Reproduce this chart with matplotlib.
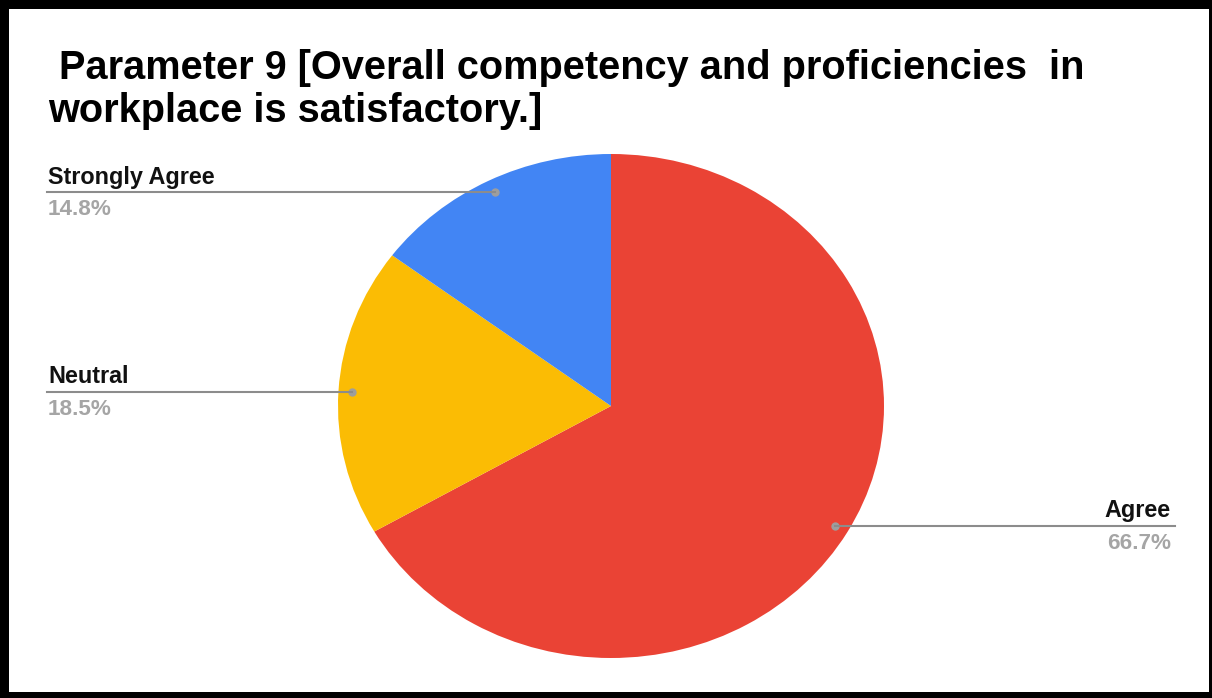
import numpy as np
import matplotlib
matplotlib.use("Agg")
import matplotlib.pyplot as plt
from matplotlib.patches import Rectangle

# ---- data ----
categories = ["Agree", "Neutral", "Strongly Agree"]
values = [66.7, 18.5, 14.8]
pct_labels = ["66.7%", "18.5%", "14.8%"]
colors = ["#EA4335", "#FBBC04", "#4285F4"]
title_line1 = " Parameter 9 [Overall competency and proficiencies  in"
title_line2 = "workplace is satisfactory.]"

W, H = 1212, 698
plt.rcParams['font.family'] = ['Liberation Sans', 'DejaVu Sans']
fig = plt.figure(figsize=(W / 100, H / 100), dpi=100)
fig.patch.set_facecolor("white")

def fx(x):
    return x / W

def fy(y):
    return 1 - y / H

# pie geometry (pixels)
cx, cy, rx, ry = 611, 406, 273, 252

ax = fig.add_axes([0, 0, 1, 1])
wedges, _ = ax.pie(values, colors=colors, startangle=90, counterclock=False,
                   radius=1, center=(0, 0), wedgeprops=dict(linewidth=0))
ax.set_aspect('auto')
ax.set_xlim((0 - cx) / rx, (W - cx) / rx)
ax.set_ylim(-(H - cy) / ry, cy / ry)
ax.axis('off')

fig.canvas.draw()
to_px = ax.transData

label_side = {"Agree": "right", "Neutral": "left", "Strongly Agree": "left"}
left_x, right_x = 47, 1175
for w, cat, pct in zip(wedges, categories, pct_labels):
    mid = np.deg2rad((w.theta1 + w.theta2) / 2)
    dx, dy = 0.95 * np.cos(mid), 0.95 * np.sin(mid)
    px_, py_ = to_px.transform((dx, dy))
    py_img = H - py_
    ax.plot([dx], [dy], 'o', color="#9e9e9e", markersize=5, zorder=5)
    if label_side[cat] == "left":
        x_end = left_x
        tx, ha = 48, 'left'
    else:
        x_end = right_x
        tx, ha = 1171, 'right'
    fig.add_artist(plt.Line2D([fx(px_), fx(x_end)], [fy(py_img), fy(py_img)],
                              transform=fig.transFigure, color="#8c8c8c", lw=1.5))
    fig.text(fx(tx), fy(py_img - 8.5), cat, ha=ha, va='baseline',
             fontsize=16.8, fontweight='bold', color="#111111")
    fig.text(fx(tx), fy(py_img + 23), pct, ha=ha, va='baseline',
             fontsize=16.2, fontweight='bold', color="#a5a5a5")

# title
fig.text(fx(48), fy(79), title_line1, ha='left', va='baseline',
         fontsize=28.6, fontweight='bold', color="black")
fig.text(fx(48), fy(122), title_line2, ha='left', va='baseline',
         fontsize=28.6, fontweight='bold', color="black")

# frame
for (x0, y0, w_, h_) in [(0, 0, 9, H), (0, 0, W, 9), (1209, 0, 3, H), (0, 692, W, 6)]:
    fig.add_artist(Rectangle((fx(x0), fy(y0 + h_)), w_ / W, h_ / H,
                             transform=fig.transFigure, facecolor="black",
                             edgecolor="none", zorder=10))

fig.savefig("out.png", dpi=100, facecolor="white")
